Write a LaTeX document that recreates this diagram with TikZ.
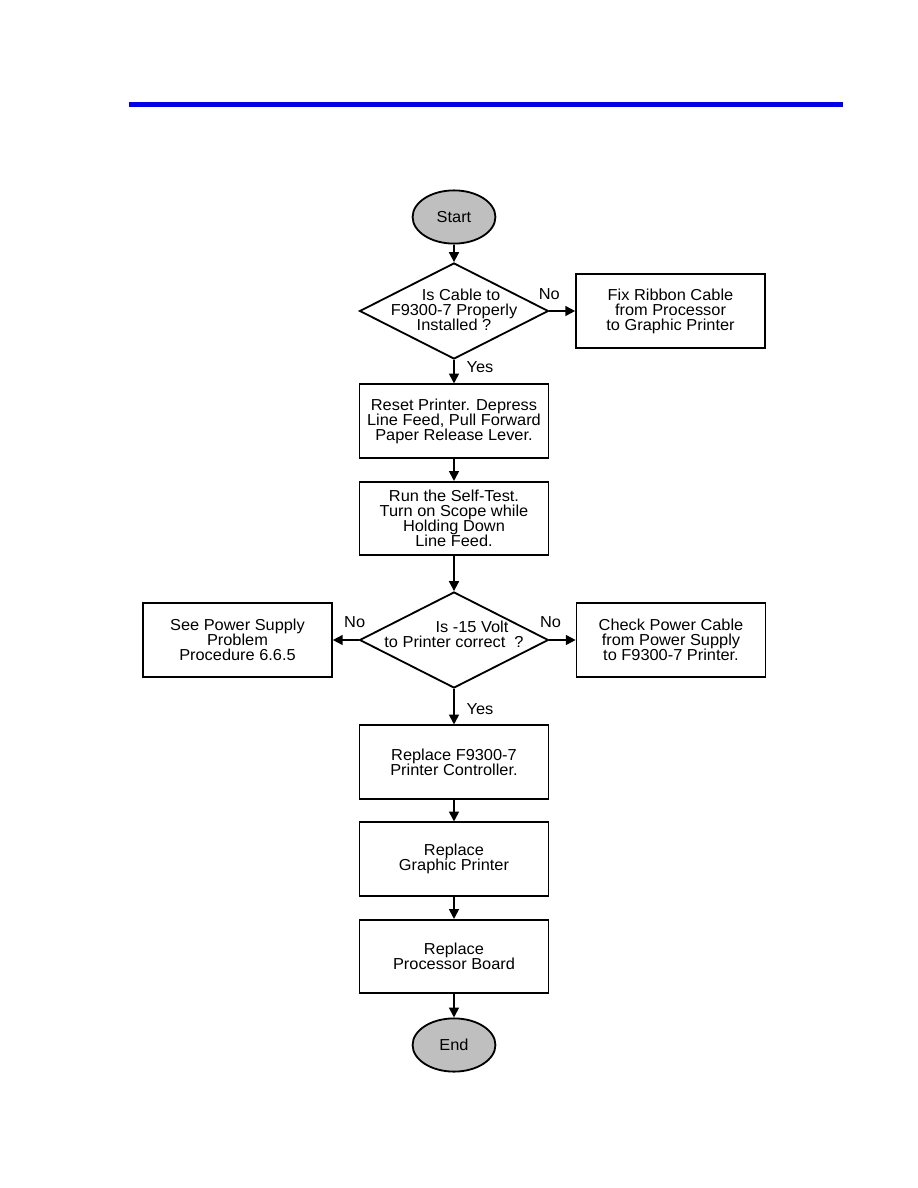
\documentclass[tikz,border=0pt]{standalone}
\usepackage{fontspec}
\usetikzlibrary{shapes.geometric,arrows.meta}
\newfontfamily\arialfont[FakeStretch=1.03]{Liberation Sans}
\newcommand{\flowfont}{\arialfont\fontsize{11.3pt}{10.7pt}\selectfont}
\definecolor{barblue}{RGB}{0,0,230}
\begin{document}
\begin{tikzpicture}[x=0.025cm,y=-0.025cm,
  every node/.style={font=\flowfont},
  box/.style={draw,line width=1.3pt,minimum width=4.72cm,minimum height=1.83cm,align=center,inner sep=0pt},
  term/.style={ellipse,draw,fill=gray!50,line width=1.3pt,minimum width=2.07cm,minimum height=1.33cm,inner sep=0pt},
  decision/.style={diamond,draw,line width=1.3pt,minimum width=4.72cm,minimum height=2.4cm,inner sep=0pt},
  qtext/.style={align=center,inner sep=0pt},
  flow/.style={-{Triangle[length=7pt,width=7pt]},line width=1.3pt}]
  \useasboundingbox (0,0) rectangle (918,1188);
  \fill[barblue] (129,102) rectangle (843,107);

  \node[term] (start) at (454,217) {Start};
  \node[decision] (q1) at (454,311) {};
  \node[qtext] (q1text) at (454,310) {\hspace{0.35cm}Is Cable to\\F9300-7 Properly\hspace{0.65cm}\\Installed ?};
  \node[box] (fix) at (670.5,311) {Fix Ribbon Cable\\from Processor\\to Graphic Printer};
  \node[box] (reset) at (454,421) {Reset Printer. Depress\\Line Feed, Pull Forward\\Paper Release Lever.};
  \node[box] (run) at (454,518.5) {Run the Self-Test.\\Turn on Scope while\\Holding Down\\Line Feed.};
  \node[decision] (q2) at (454,640) {};
  \node[qtext] (q2text) at (454,634) {\hspace{0.9cm}Is -15 Volt\\to Printer correct\ \ ?};
  \node[box] (power) at (237.5,640) {See Power Supply\\Problem\\Procedure 6.6.5};
  \node[box] (cable) at (671,640) {Check Power Cable\\from Power Supply\\to F9300-7 Printer.};
  \node[box] (ctrl) at (454,762) {Replace F9300-7\\Printer Controller.};
  \node[box] (gp) at (454,859) {Replace\\Graphic Printer};
  \node[box] (pb) at (454,956.5) {Replace\\Processor Board};
  \node[term] (end) at (454,1045) {End};

  \node (no1) at ([yshift=0.43cm]q1.east) {No};
  \node (yes1) at ([xshift=0.65cm,yshift=-0.18cm]q1.south) {Yes};
  \node (no2) at ([xshift=-0.1cm,yshift=0.45cm]q2.west) {No};
  \node (no3) at ([xshift=0.03cm,yshift=0.45cm]q2.east) {No};
  \node (yes2) at ([xshift=0.65cm,yshift=-0.5cm]q2.south) {Yes};

  \draw[flow] (start) -- (q1);
  \draw[flow] (q1.east) -- (fix);
  \draw[flow] (q1.south) -- (reset);
  \draw[flow] (reset) -- (run);
  \draw[flow] (run) -- (q2.north);
  \draw[flow] (q2.west) -- (power);
  \draw[flow] (q2.east) -- (cable);
  \draw[flow] (q2.south) -- (ctrl);
  \draw[flow] (ctrl) -- (gp);
  \draw[flow] (gp) -- (pb);
  \draw[flow] (pb) -- (end);
\end{tikzpicture}
\end{document}
